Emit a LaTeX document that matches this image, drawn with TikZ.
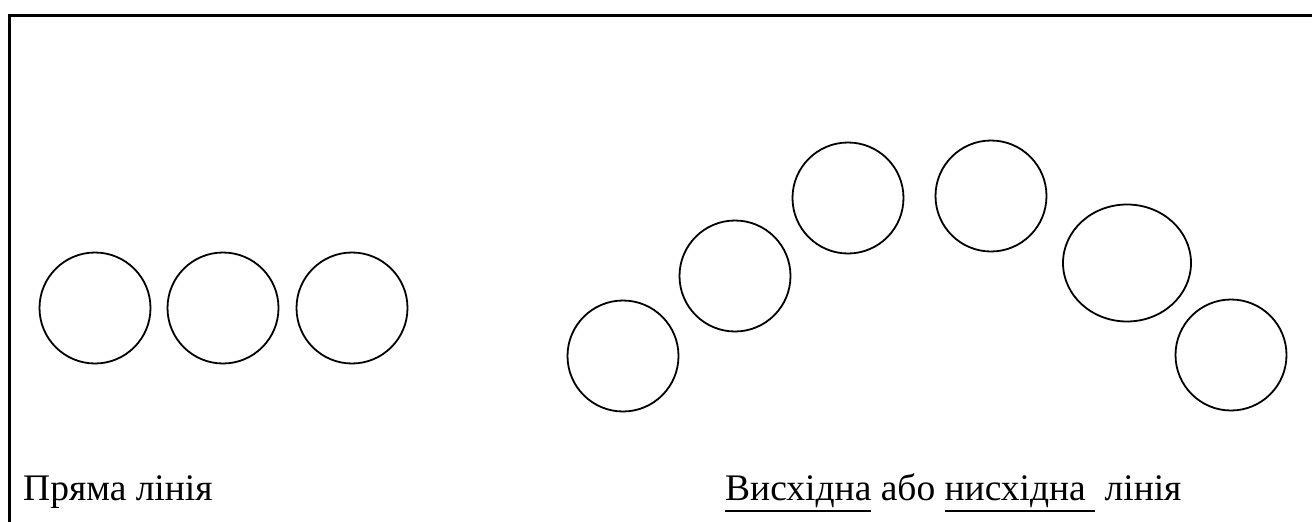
\documentclass[tikz,border=0pt]{standalone}
\usepackage{fontspec}
\setmainfont{Liberation Serif}
\usepackage{tikz}
\usetikzlibrary{shapes.geometric}
\tikzstyle{ball} = [ellipse, draw, line width=1.8pt, inner sep=0, minimum width=111pt, minimum height=111pt]
\tikzstyle{wideball} = [ball, minimum width=128pt, minimum height=117pt]
\tikzstyle{caption} = [anchor=base west, inner sep=0, font=\fontsize{37.5}{44}\selectfont]
\tikzstyle{frame} = [draw, line width=3pt]
\newcommand{\lined}[1]{\leavevmode\vtop{\hbox{#1}\kern3pt\hrule height 2pt}}

\begin{document}
\begin{tikzpicture}[x=1pt, y=-1pt, node distance=128pt]
\useasboundingbox (0,0) rectangle (1312,522);
\draw [frame] (9,522) -- (9,15) -- (1312,15);

% straight row
\node [ball] (b1) at (95,308) {};
\node [ball, right of=b1] (b2) {};
\node [ball, right of=b2, xshift=1pt] (b3) {};

% rising and falling arc
\node [ball] (u1) at (623,356) {};
\node [ball] (u2) at (735,276) {};
\node [ball] (u3) at (848,198) {};
\node [ball] (u4) at (991,196) {};
\node [wideball] (u5) at (1127,263) {};
\node [ball] (u6) at (1231,355) {};

\node [caption] (t1) at (23,500) {Пряма лінія};
\node [caption] (t2) at (725,500) {\lined{Висхідна} або \lined{нисхідна\ }\ лінія};

\end{tikzpicture}
\end{document}
